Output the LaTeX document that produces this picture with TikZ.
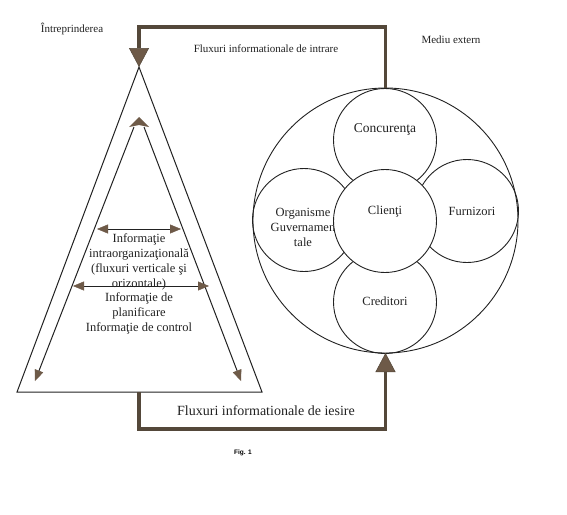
\documentclass[tikz,border=0pt]{standalone}
\usepackage{fontspec}
\setmainfont{Liberation Serif}
\newfontfamily\figfont{Liberation Sans}
\usetikzlibrary{arrows.meta}
\definecolor{flow}{HTML}{54483A}
\definecolor{tipc}{HTML}{6E5A48}
\definecolor{ink}{HTML}{222222}
\begin{document}
\begin{tikzpicture}[x=1pt,y=-1pt,
  flowline/.style={draw=flow,line width=3.5pt},
  bigtip/.style={-{Triangle[width=20pt,length=19pt,line width=0.5pt,fill=tipc,color=flow]}},
  triline/.style={draw=ink,line width=1pt},
  smalltip/.style={{Triangle[width=9pt,length=11pt,line width=0.4pt,fill=tipc,color=tipc]}-{Triangle[width=9pt,length=11pt,line width=0.4pt,fill=tipc,color=tipc]}},
  onetip/.style={-{Triangle[width=9pt,length=11pt,line width=0.4pt,fill=tipc,color=tipc]}},
  circ/.style={circle,draw=ink,line width=0.9pt,minimum size=103pt,inner sep=0pt,outer sep=0pt},
  lbl/.style={font=\fontsize{11}{13}\selectfont,inner sep=0pt,text=ink},
  ctext/.style={font=\fontsize{12.5}{15}\selectfont,inner sep=0pt,align=center,text=ink}]
\useasboundingbox (0,0) rectangle (567,514);
\fill[white] (0,0) rectangle (567,514);

% outer triangle
\coordinate (apex) at (139,67);
\coordinate (bl) at (17,392);
\coordinate (br) at (262,392);
\coordinate (basemid) at (139,392);
\draw[triline] (apex) -- (bl) -- (br) -- cycle;

% inner arrows
\coordinate (ia) at (139,117);
\coordinate (il) at (134,127);
\coordinate (ir) at (144,127);
\coordinate (ibl) at (35,381);
\coordinate (ibr) at (241,381);
\draw[triline,onetip] (il) -- (ibl);
\draw[triline,onetip] (ir) -- (ibr);
\fill[tipc] (ia) -- (129,127) -- (139,125) -- (149,127) -- cycle;

% horizontal double arrows
\coordinate (h1l) at (97,229);
\coordinate (h1r) at (181,229);
\coordinate (h2l) at (73,286);
\coordinate (h2r) at (209,286);
\draw[triline,line width=0.8pt,smalltip] (h1l) -- (h1r);
\draw[triline,line width=0.8pt,smalltip] (h2l) -- (h2r);

\node[ctext,anchor=north] (t1) at (139,233) {Informaţie\\intraorganizaţională\\(fluxuri verticale şi\\orizontale)};
\node[ctext,anchor=north] (t2) at (139,292) {Informaţie de\\planificare\\Informaţie de control};

% external environment
\node[circle,draw=ink,line width=0.9pt,minimum size=265pt,inner sep=0pt,outer sep=0pt] (ext) at (385.5,220.5) {};
\node[circ] (conc) at (385,140) {};
\node[circ] (org) at (304,220) {};
\node[circ] (furn) at (467,211) {};
\node[circ] (cred) at (385,302) {};
\node[ctext,font=\fontsize{13.5}{15}\selectfont] (tconc) at (385,129) {Concurenţa};
\node[ctext] (torg) at (303,227) {Organisme\\Guvernamen\\tale};
\node[ctext] (tfurn) at (472,211) {Furnizori};
\node[ctext] (tcred) at (385,301) {Creditori};
\node[circ,fill=white] (cli) at (385,221) {};
\node[ctext] (tcli) at (385,211) {Clienţi};

% flows
\draw[flowline,bigtip] (ext.north) -- ++(0,-61) -| (apex);
\draw[flowline,bigtip] (basemid) -- ++(0,37) -| (ext.south);

% labels
\node[lbl] (intr) at (72,29) {Întreprinderea};
\node[lbl] (fin) at (266,49) {Fluxuri informationale de intrare};
\node[lbl] (med) at (451,40) {Mediu extern};
\node[lbl,font=\fontsize{14}{16}\selectfont] (fout) at (266,411) {Fluxuri informationale de iesire};
\node[inner sep=0pt,font=\figfont\bfseries\fontsize{6.5}{8}\selectfont] (fig) at (243,453) {Fig. 1};
\end{tikzpicture}
\end{document}
